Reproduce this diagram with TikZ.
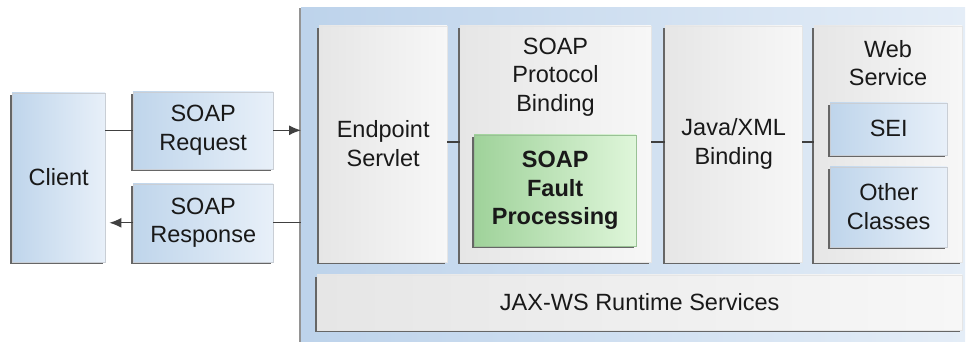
\documentclass[tikz,border=0pt]{standalone}
\usepackage{fontspec}
\setmainfont{Liberation Sans}
\usetikzlibrary{shadows,arrows.meta}
\definecolor{blueL}{HTML}{BFD5EB}
\definecolor{blueR}{HTML}{E8F0F9}
\definecolor{bigL}{HTML}{BDD3EB}
\definecolor{bigR}{HTML}{E4EDF7}
\definecolor{grayL}{HTML}{E6E6E6}
\definecolor{grayR}{HTML}{F7F7F7}
\definecolor{greenL}{HTML}{9FD29A}
\definecolor{greenR}{HTML}{DFF6DA}
\definecolor{shad}{HTML}{666666}
\definecolor{lnk}{HTML}{404040}
\tikzset{
  box/.style={rectangle, inner sep=0pt, align=center, anchor=south west,
    font=\fontsize{23.5}{28.5}\selectfont, text=black!90,
    drop shadow={shadow xshift=-1.8pt, shadow yshift=-1.8pt, fill=shad, opacity=1}},
  bluebox/.style={box, left color=blueL, right color=blueR, draw=blueR!70!gray, line width=0.4pt},
  graybox/.style={box, left color=grayL, right color=grayR, draw=white!80!gray, line width=0.4pt},
  greenbox/.style={box, left color=greenL, right color=greenR, draw=greenL!80!gray, line width=0.4pt},
  bigbox/.style={rectangle, inner sep=0pt, anchor=south west, left color=bigL, right color=bigR,
    drop shadow={shadow xshift=-1.8pt, shadow yshift=0pt, fill=shad!70, opacity=1}},
  title/.style={align=center, inner sep=0pt, font=\fontsize{23.5}{28.5}\selectfont, text=black!90},
  link/.style={draw=lnk, line width=1.2pt},
  arr/.style={link, -{Latex[length=12pt,width=10pt]}},
}
\newcommand{\boxat}[6]{\node[#1, minimum width={(#4-#2)*1pt}, minimum height={(#5-#3)*1pt}] (#6) at (#2,#3)}
\begin{document}
\begin{tikzpicture}[x=1pt,y=1pt]
\useasboundingbox (0,0) rectangle (966,341);
% big runtime container
\boxat{bigbox}{301}{-4}{965}{333}{big} {};
% client side
\boxat{bluebox}{12}{79}{105}{248}{client} {Client};
\boxat{bluebox}{133}{172}{273}{249}{req} {SOAP\\Request};
\boxat{bluebox}{133}{79}{273}{157}{resp} {SOAP\\Response};
% inner components
\boxat{graybox}{319}{79}{447}{315}{endpoint} {Endpoint\\Servlet};
\boxat{graybox}{460}{79}{651}{315}{protocol} {};
\node[title] (protocoltitle) at (555.5,264) {SOAP\\Protocol\\Binding};
\boxat{greenbox}{474}{95}{636}{206}{fault} {\bfseries SOAP\\\bfseries Fault\\\bfseries Processing};
\boxat{graybox}{665}{79}{802}{315}{java} {Java/XML\\Binding};
\boxat{graybox}{814}{79}{962}{315}{web} {};
\node[title] (webtitle) at (888,278) {Web\\Service};
\boxat{bluebox}{830}{186}{947}{238}{sei} {SEI};
\boxat{bluebox}{830}{94}{947}{174}{other} {Other\\Classes};
\boxat{graybox}{317}{11}{962}{66}{jax} {JAX-WS Runtime Services};
% connectors
\draw[link] (client.east |- req.east) -- (req.west);
\draw[arr] (req.east) -- (req.east -| big.west);
\draw[link] (resp.east -| big.west) -- (resp.east);
\draw[arr] (resp.west) -- ([xshift=4pt]resp.west -| client.east);
\path (0,199) coordinate (lk);
\draw[link] (lk -| endpoint.east) -- (lk -| protocol.west);
\draw[link] (lk -| protocol.east) -- (lk -| java.west);
\draw[link] (lk -| java.east) -- (lk -| web.west);
\end{tikzpicture}
\end{document}
